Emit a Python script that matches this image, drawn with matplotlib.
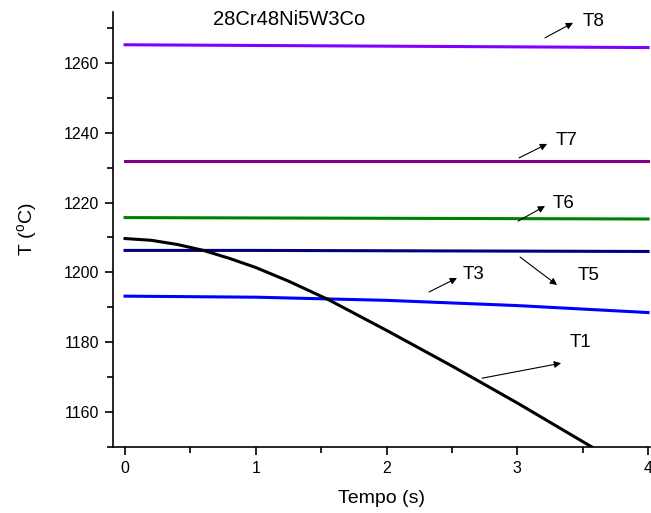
import matplotlib
matplotlib.use("Agg")
import matplotlib.pyplot as plt
from matplotlib.ticker import MultipleLocator

plt.rcParams['font.family'] = ['Liberation Sans', 'DejaVu Sans']
plt.rcParams['mathtext.fontset'] = 'custom'
plt.rcParams['mathtext.rm'] = 'Liberation Sans'

# Data
t = [0.0, 0.2, 0.4, 0.6, 0.8, 1.0, 1.25, 1.55, 2.0, 2.5, 3.0, 3.57]
T1 = [1209.7, 1209.2, 1208.0, 1206.3, 1204.0, 1201.4, 1197.5, 1192.3, 1183.4, 1173.2, 1162.6, 1150.0]
t_flat = [0.0, 1.0, 2.0, 3.0, 4.0]
T3 = [1193.2, 1192.9, 1192.0, 1190.5, 1188.5]
T5 = [1206.3, 1206.3, 1206.2, 1206.1, 1206.0]
T6 = [1215.7, 1215.6, 1215.5, 1215.4, 1215.3]
T7 = [1232.0, 1232.0, 1232.0, 1232.0, 1232.0]
T8 = [1265.2, 1265.0, 1264.8, 1264.6, 1264.4]

title_text = "28Cr48Ni5W3Co"
labels = ["T8", "T7", "T6", "T5", "T3", "T1"]
label_pos = [(3.50, 1271.9), (3.29, 1237.9), (3.27, 1219.6), (3.46, 1199.0), (2.585, 1199.3), (3.40, 1179.8)]
arrow_tail = [(3.212, 1267.2), (3.013, 1232.8), (3.006, 1214.7), (3.021, 1204.4), (2.325, 1194.4), (2.730, 1169.7)]
arrow_head = [(3.426, 1271.5), (3.228, 1236.8), (3.212, 1219.0), (3.304, 1196.4), (2.539, 1198.4), (3.335, 1174.0)]

fig = plt.figure(figsize=(6.51, 5.13), dpi=100)
ax = fig.add_axes([0.1736, 0.1287, 0.8249, 0.848])

lw = 2.2
ax.plot(t_flat, T8, color='#8000FF', lw=lw)
ax.plot(t_flat, T7, color='#800080', lw=lw)
ax.plot(t_flat, T6, color='#008000', lw=lw)
ax.plot(t_flat, T5, color='#000080', lw=lw)
ax.plot(t_flat, T3, color='#0000FF', lw=lw)
ax.plot(t, T1, color='black', lw=lw)

ax.set_xlim(-0.092, 4.015)
ax.set_ylim(1150, 1274.6)

ax.spines['top'].set_visible(False)
ax.spines['right'].set_visible(False)
for s in ['left', 'bottom']:
    ax.spines[s].set_linewidth(1.2)

ax.xaxis.set_major_locator(MultipleLocator(1))
ax.xaxis.set_minor_locator(MultipleLocator(0.5))
ax.yaxis.set_major_locator(MultipleLocator(20))
ax.yaxis.set_minor_locator(MultipleLocator(10))
ax.tick_params(which='major', direction='out', length=6, width=1.2, labelsize=11.5, pad=4)
ax.tick_params(which='minor', direction='out', length=4, width=1.2)

ax.set_xlabel("Tempo (s)", fontsize=14, labelpad=10)
ax.set_ylabel("T ($^{\\mathrm{o}}$C)", fontsize=14, labelpad=17)

ax.text(0.673, 1272.3, title_text, fontsize=14.5, va='center', ha='left')

for lab, pos, tail, head in zip(labels, label_pos, arrow_tail, arrow_head):
    ax.text(pos[0], pos[1], lab, fontsize=13.5, va='center', ha='left')
    ax.annotate("", xy=head, xytext=tail,
                arrowprops=dict(arrowstyle='-|>', color='black', lw=0.8,
                                mutation_scale=10, shrinkA=0, shrinkB=0))

fig.savefig("out.png", dpi=100)
